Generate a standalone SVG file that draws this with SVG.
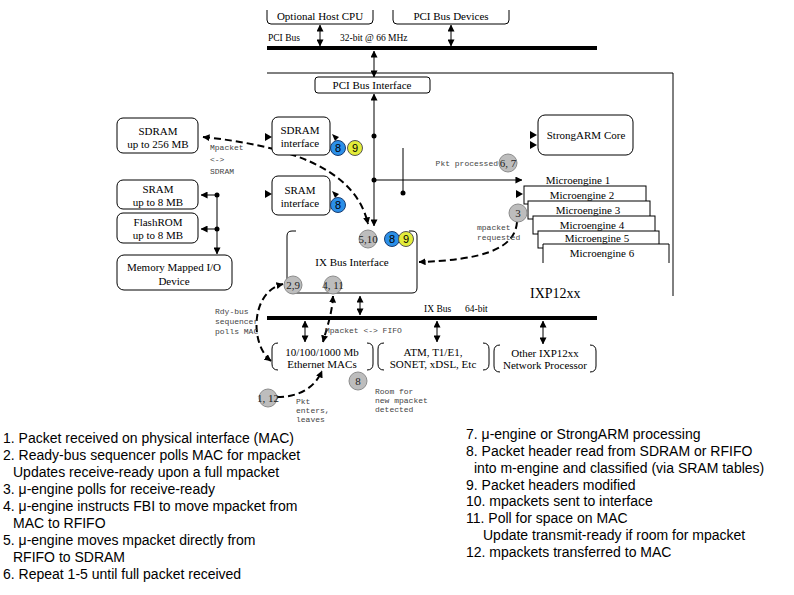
<svg xmlns="http://www.w3.org/2000/svg" width="794" height="595" viewBox="0 0 794 595">
<defs>
<marker id="ah" viewBox="0 0 8 8" refX="7.5" refY="4" markerWidth="7" markerHeight="7" markerUnits="userSpaceOnUse" orient="auto-start-reverse"><path d="M0,0 L8,4 L0,8 z" fill="#000"/></marker>
<style>
.box{fill:#fff;stroke:#000;stroke-width:1}
.br{fill:none;stroke:#000;stroke-width:1}
.t{font-family:"Liberation Serif","Times New Roman",serif;font-size:11px;fill:#000;text-anchor:middle}
.me{font-family:"Liberation Serif","Times New Roman",serif;font-size:11px;fill:#000;text-anchor:middle}
.bl{font-family:"Liberation Serif","Times New Roman",serif;font-size:9.5px;fill:#000}
.m{font-family:"Liberation Mono","Courier New",monospace;font-size:8px;fill:#444}
.s{font-family:"Liberation Sans",Arial,sans-serif;font-size:14px;fill:#000}
.ln{stroke:#000;stroke-width:1;fill:none}
.da{stroke:#000;stroke-width:2;fill:none;stroke-dasharray:7,4}
.bus{stroke:#000;stroke-width:4}
.g{fill:#bdbdbd;stroke:#8c8c8c;stroke-width:1}
.b{fill:#2b8fe8;stroke:#1a3c6e;stroke-width:1}
.y{fill:#e3ec3a;stroke:#555;stroke-width:1}
.ct{font-family:"Liberation Serif","Times New Roman",serif;font-size:11px;text-anchor:middle;fill:#222}
.cs{font-family:"Liberation Sans",Arial,sans-serif;font-size:11px;text-anchor:middle;fill:#000}
.hd{fill:#000}
</style>
</defs>
<rect width="794" height="595" fill="#fff"/>

<g id="connectors">
  <line class="bus" x1="267" y1="48" x2="597" y2="48"/>
  <line class="bus" x1="267" y1="318" x2="597" y2="318"/>
  <polyline class="ln" points="267,73 673,73 673,296"/>
  <text class="bl" x="268" y="41">PCI Bus</text>
  <text class="bl" x="340" y="41">32-bit @ 66 MHz</text>
  <text class="bl" x="424" y="312">IX Bus</text>
  <text class="bl" x="465" y="312">64-bit</text>
  <line class="ln" x1="320" y1="25" x2="320" y2="46" marker-start="url(#ah)" marker-end="url(#ah)"/>
  <line class="ln" x1="451" y1="25" x2="451" y2="46" marker-start="url(#ah)" marker-end="url(#ah)"/>
  <line class="ln" x1="374" y1="51" x2="374" y2="77" marker-start="url(#ah)" marker-end="url(#ah)"/>
  <line class="ln" x1="374" y1="94" x2="374" y2="226" marker-start="url(#ah)" marker-end="url(#ah)"/>
  <circle class="hd" cx="374" cy="136" r="2.5"/>
  <circle class="hd" cx="374" cy="180" r="2.5"/>
  <line class="ln" x1="374" y1="180" x2="522" y2="180" marker-end="url(#ah)"/>
  <line class="ln" x1="403" y1="148" x2="403" y2="193"/>
  <circle class="hd" cx="403" cy="193" r="2.5"/>
  <polygon class="hd" points="530,131 537,135 530,139"/>
  <polygon class="hd" points="530,141 537,145 530,149"/>
  <polygon class="hd" points="516,190 523,194 516,198"/>
  <polygon class="hd" points="265,133 272,137 265,141"/>
  <polygon class="hd" points="265,190 272,194 265,198"/>
  <polygon class="hd" points="332,134 339,137 335,141"/>
  <polygon class="hd" points="332,191 339,194 335,198"/>
  <line class="ln" x1="217" y1="195" x2="217" y2="254" marker-end="url(#ah)"/>
  <line class="ln" x1="217" y1="195" x2="201" y2="195" marker-end="url(#ah)"/>
  <line class="ln" x1="217" y1="229" x2="201" y2="229" marker-end="url(#ah)"/>
  <circle class="hd" cx="217" cy="195" r="2.5"/>
  <circle class="hd" cx="217" cy="229" r="2.5"/>
  <path class="da" d="M203,137 C280,145 355,165 368,224" marker-start="url(#ah)" marker-end="url(#ah)"/>
  <path class="da" d="M517,222 C515,250 480,260 419,262" marker-end="url(#ah)"/>
  <path class="da" d="M271,361 C250,345 250,292 283,284" marker-start="url(#ah)" marker-end="url(#ah)"/>
  <path class="da" d="M333,296 C332,315 326,330 323,342" marker-start="url(#ah)" marker-end="url(#ah)"/>
  <path class="da" d="M277,397 C300,397 315,387 322,371" marker-end="url(#ah)"/>
  <line class="ln" x1="305" y1="321" x2="305" y2="342" marker-start="url(#ah)" marker-end="url(#ah)"/>
  <line class="ln" x1="360" y1="296" x2="360" y2="315" marker-start="url(#ah)" marker-end="url(#ah)"/>
  <line class="ln" x1="437" y1="321" x2="437" y2="342" marker-start="url(#ah)" marker-end="url(#ah)"/>
  <line class="ln" x1="543" y1="321" x2="543" y2="344" marker-start="url(#ah)" marker-end="url(#ah)"/>
  <text class="m" x="210" y="150">Mpacket</text>
  <text class="m" x="210" y="162">&lt;-&gt;</text>
  <text class="m" x="210" y="174">SDRAM</text>
  <text class="m" x="498" y="166" text-anchor="end">Pkt processed</text>
  <text class="m" x="477" y="230">mpacket</text>
  <text class="m" x="477" y="240">requested</text>
  <text class="m" x="215" y="314">Rdy-bus</text>
  <text class="m" x="215" y="324">sequencer</text>
  <text class="m" x="215" y="334">polls MAC</text>
  <text class="m" x="325" y="333">Mpacket &lt;-&gt; FIFO</text>
  <text class="m" x="296" y="404">Pkt</text>
  <text class="m" x="296" y="413">enters,</text>
  <text class="m" x="296" y="422">leaves</text>
  <text class="m" x="375" y="394">Room for</text>
  <text class="m" x="375" y="403">new mpacket</text>
  <text class="m" x="375" y="412">detected</text>
</g>

<g id="host-cpu">
  <path class="br" d="M267,10 V20 Q267,24 271,24 H369 Q373,24 373,20 V10"/>
  <text class="t" x="320" y="20">Optional Host CPU</text>
</g>
<g id="pci-devices">
  <path class="br" d="M393,10 V20 Q393,24 397,24 H505 Q509,24 509,20 V10"/>
  <text class="t" x="451" y="20">PCI Bus Devices</text>
</g>
<g id="pci-interface">
  <rect class="box" x="315" y="77" width="115" height="16" rx="3"/>
  <text class="t" x="372" y="89">PCI Bus Interface</text>
</g>
<g id="sdram-interface">
  <rect class="box" x="272" y="117" width="58" height="38" rx="6"/>
  <text class="t" x="300" y="134">SDRAM</text>
  <text class="t" x="300" y="147">interface</text>
  <circle class="b" cx="338" cy="148" r="7.5"/><text class="cs" x="338" y="152">8</text>
  <circle class="y" cx="355" cy="148" r="7.5"/><text class="cs" x="355" y="152">9</text>
</g>
<g id="sram-interface">
  <rect class="box" x="272" y="176" width="58" height="39" rx="6"/>
  <text class="t" x="300" y="194">SRAM</text>
  <text class="t" x="300" y="207">interface</text>
  <circle class="b" cx="338" cy="205" r="7.5"/><text class="cs" x="338" y="209">8</text>
</g>
<g id="ix-interface">
  <path class="br" d="M296,231 H292 Q287,231 287,236 V288 Q287,293 292,293 H412 Q417,293 417,288 V236 Q417,231 412,231 H409"/>
  <text class="t" x="352" y="266">IX Bus Interface</text>
  <circle class="g" cx="368" cy="239" r="9"/><text class="ct" x="368" y="243">5,10</text>
  <circle class="b" cx="392" cy="239" r="7.5"/><text class="cs" x="392" y="243">8</text>
  <circle class="y" cx="406" cy="239" r="7.5"/><text class="cs" x="406" y="243">9</text>
  <circle class="g" cx="293" cy="285" r="9"/><text class="ct" x="293" y="289">2,9</text>
  <circle class="g" cx="333" cy="285" r="9"/><text class="ct" x="333" y="289">4, 11</text>
</g>
<g id="strongarm">
  <rect class="box" x="538" y="115" width="95" height="40" rx="7"/>
  <text class="t" x="586" y="139">StrongARM Core</text>
</g>
<g id="microengines">
  <rect class="box" x="524" y="186" width="122" height="18"/>
  <rect class="box" x="528" y="201" width="122" height="18"/>
  <rect class="box" x="533" y="216" width="122" height="18"/>
  <rect class="box" x="538" y="231" width="121" height="17"/>
  <path class="box" d="M543,263 V244 H669 V263"/>
  <text class="me" x="578" y="184">Microengine 1</text>
  <text class="me" x="582" y="199">Microengine 2</text>
  <text class="me" x="588" y="214">Microengine 3</text>
  <text class="me" x="592" y="229">Microengine 4</text>
  <text class="me" x="597" y="242">Microengine 5</text>
  <text class="me" x="602" y="257">Microengine 6</text>
  <circle class="g" cx="508" cy="163" r="9"/><text class="ct" x="508" y="167">6, 7</text>
  <circle class="g" cx="518" cy="213" r="9"/><text class="ct" x="518" y="217">3</text>
</g>
<g id="chip-label">
  <text x="530" y="298" style="font-family:'Liberation Serif','Times New Roman',serif;font-size:14px">IXP12xx</text>
</g>
<g id="sdram">
  <rect class="box" x="117" y="118" width="81" height="35" rx="6"/>
  <text class="t" x="158" y="135">SDRAM</text>
  <text class="t" x="158" y="148">up to 256 MB</text>
</g>
<g id="sram">
  <rect class="box" x="117" y="180" width="81" height="29" rx="6"/>
  <text class="t" x="158" y="193">SRAM</text>
  <text class="t" x="158" y="206">up to 8 MB</text>
</g>
<g id="flashrom">
  <rect class="box" x="117" y="213" width="81" height="30" rx="6"/>
  <text class="t" x="158" y="226">FlashROM</text>
  <text class="t" x="158" y="239">up to 8 MB</text>
</g>
<g id="mmio">
  <rect class="box" x="117" y="255" width="115" height="35" rx="7"/>
  <text class="t" x="174" y="271">Memory Mapped I/O</text>
  <text class="t" x="174" y="285">Device</text>
</g>
<g id="mac">
  <path class="br" d="M278,343 Q272,343 272,349 V364 Q272,370 278,370 M367,343 Q373,343 373,349 V364 Q373,370 367,370"/>
  <text class="t" x="322" y="356">10/100/1000 Mb</text>
  <text class="t" x="322" y="368">Ethernet MACs</text>
  <circle class="g" cx="268" cy="398" r="9"/><text class="ct" x="268" y="402">1, 12</text>
  <circle class="g" cx="358" cy="381" r="9"/><text class="ct" x="358" y="385">8</text>
</g>
<g id="atm">
  <path class="br" d="M384,343 Q378,343 378,349 V364 Q378,370 384,370 M483,343 Q489,343 489,349 V364 Q489,370 483,370"/>
  <text class="t" x="433" y="356">ATM, T1/E1,</text>
  <text class="t" x="433" y="368">SONET, xDSL, Etc</text>
</g>
<g id="other-ixp">
  <path class="br" d="M500,345 Q494,345 494,351 V366 Q494,372 500,372 M590,345 Q596,345 596,351 V366 Q596,372 590,372"/>
  <text class="t" x="545" y="357">Other IXP12xx</text>
  <text class="t" x="545" y="369">Network Processor</text>
</g>
<g id="notes-left">
  <text class="s" x="3" y="443">1. Packet received on physical interface (MAC)</text>
  <text class="s" x="3" y="460">2. Ready-bus sequencer polls MAC for mpacket</text>
  <text class="s" x="13" y="477">Updates receive-ready upon a full mpacket</text>
  <text class="s" x="3" y="494">3. μ-engine polls for receive-ready</text>
  <text class="s" x="3" y="511">4. μ-engine instructs FBI to move mpacket from</text>
  <text class="s" x="13" y="528">MAC to RFIFO</text>
  <text class="s" x="3" y="545">5. μ-engine moves mpacket directly from</text>
  <text class="s" x="13" y="562">RFIFO to SDRAM</text>
  <text class="s" x="3" y="579">6. Repeat 1-5 until full packet received</text>
</g>
<g id="notes-right">
  <text class="s" x="466" y="439">7. μ-engine or StrongARM processing</text>
  <text class="s" x="466" y="456">8. Packet header read from SDRAM or RFIFO</text>
  <text class="s" x="474" y="473">into m-engine and classified (via SRAM tables)</text>
  <text class="s" x="466" y="490">9. Packet headers modified</text>
  <text class="s" x="466" y="506">10. mpackets sent to interface</text>
  <text class="s" x="466" y="523">11. Poll for space on MAC</text>
  <text class="s" x="483" y="540">Update transmit-ready if room for mpacket</text>
  <text class="s" x="466" y="557">12. mpackets transferred to MAC</text>
</g>
</svg>
